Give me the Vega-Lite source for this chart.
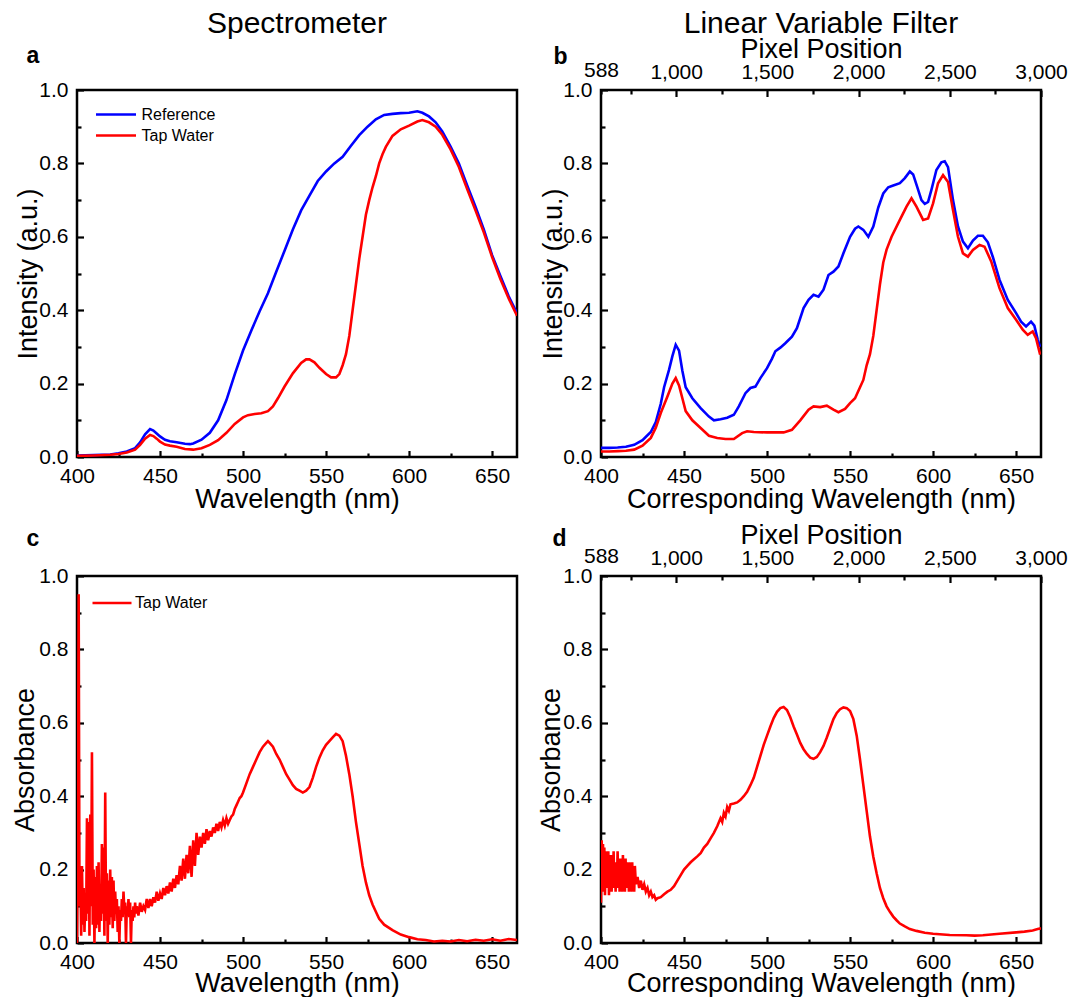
{
  "$schema": "https://vega.github.io/schema/vega-lite/v6.json",
  "autosize": {"type": "none"},
  "padding": {"left": 77, "top": 90, "right": 1006, "bottom": 907},
  "background": "white",
  "config": {
    "font": "Liberation Sans",
    "view": {"stroke": "black", "strokeWidth": 2.5},
    "axis": {"grid": false, "domain": false, "labelFont": "Liberation Sans", "titleFont": "Liberation Sans", "labelColor": "black", "titleColor": "black", "tickColor": "black", "tickWidth": 2.2, "labelFontSize": 21, "titleFontSize": 27, "titleFontWeight": "normal", "labelOverlap": false, "labelFlush": false},
    "title": {"font": "Liberation Sans", "fontSize": 30, "fontWeight": "normal", "color": "black", "anchor": "middle", "frame": "group"}
  },
  "resolve": {"scale": {"color": "independent"}, "legend": {"color": "independent"}},
  "datasets": {
    "pxAxis": [{"px": 588}, {"px": 3000}],
    "letterAxis": [{"v": 0}, {"v": 1}],
    "a": [
      {"nm":400,"v":0.004,"s":"Reference"},{"nm":410,"v":0.005,"s":"Reference"},{"nm":420,"v":0.007,"s":"Reference"},{"nm":425,"v":0.010,"s":"Reference"},{"nm":430,"v":0.015,"s":"Reference"},{"nm":435,"v":0.024,"s":"Reference"},{"nm":438,"v":0.040,"s":"Reference"},{"nm":441,"v":0.062,"s":"Reference"},{"nm":444,"v":0.076,"s":"Reference"},{"nm":446,"v":0.072,"s":"Reference"},{"nm":448,"v":0.064,"s":"Reference"},{"nm":450,"v":0.056,"s":"Reference"},{"nm":453,"v":0.047,"s":"Reference"},{"nm":456,"v":0.043,"s":"Reference"},{"nm":460,"v":0.040,"s":"Reference"},{"nm":465,"v":0.036,"s":"Reference"},{"nm":468,"v":0.035,"s":"Reference"},{"nm":470,"v":0.037,"s":"Reference"},{"nm":475,"v":0.047,"s":"Reference"},{"nm":480,"v":0.066,"s":"Reference"},{"nm":485,"v":0.100,"s":"Reference"},{"nm":490,"v":0.155,"s":"Reference"},{"nm":495,"v":0.225,"s":"Reference"},{"nm":500,"v":0.290,"s":"Reference"},{"nm":505,"v":0.345,"s":"Reference"},{"nm":510,"v":0.397,"s":"Reference"},{"nm":515,"v":0.446,"s":"Reference"},{"nm":520,"v":0.505,"s":"Reference"},{"nm":525,"v":0.562,"s":"Reference"},{"nm":530,"v":0.620,"s":"Reference"},{"nm":535,"v":0.672,"s":"Reference"},{"nm":540,"v":0.712,"s":"Reference"},{"nm":545,"v":0.752,"s":"Reference"},{"nm":550,"v":0.778,"s":"Reference"},{"nm":555,"v":0.800,"s":"Reference"},{"nm":560,"v":0.818,"s":"Reference"},{"nm":565,"v":0.848,"s":"Reference"},{"nm":570,"v":0.877,"s":"Reference"},{"nm":575,"v":0.900,"s":"Reference"},{"nm":580,"v":0.920,"s":"Reference"},{"nm":585,"v":0.932,"s":"Reference"},{"nm":590,"v":0.935,"s":"Reference"},{"nm":595,"v":0.937,"s":"Reference"},{"nm":600,"v":0.938,"s":"Reference"},{"nm":605,"v":0.942,"s":"Reference"},{"nm":608,"v":0.938,"s":"Reference"},{"nm":612,"v":0.928,"s":"Reference"},{"nm":616,"v":0.912,"s":"Reference"},{"nm":620,"v":0.887,"s":"Reference"},{"nm":625,"v":0.846,"s":"Reference"},{"nm":630,"v":0.800,"s":"Reference"},{"nm":635,"v":0.740,"s":"Reference"},{"nm":640,"v":0.682,"s":"Reference"},{"nm":645,"v":0.620,"s":"Reference"},{"nm":650,"v":0.550,"s":"Reference"},{"nm":655,"v":0.493,"s":"Reference"},{"nm":660,"v":0.438,"s":"Reference"},{"nm":665,"v":0.392,"s":"Reference"},
      {"nm":400,"v":0.003,"s":"Tap Water"},{"nm":410,"v":0.004,"s":"Tap Water"},{"nm":420,"v":0.006,"s":"Tap Water"},{"nm":425,"v":0.008,"s":"Tap Water"},{"nm":430,"v":0.012,"s":"Tap Water"},{"nm":435,"v":0.020,"s":"Tap Water"},{"nm":438,"v":0.033,"s":"Tap Water"},{"nm":441,"v":0.050,"s":"Tap Water"},{"nm":444,"v":0.060,"s":"Tap Water"},{"nm":446,"v":0.057,"s":"Tap Water"},{"nm":448,"v":0.050,"s":"Tap Water"},{"nm":450,"v":0.042,"s":"Tap Water"},{"nm":453,"v":0.034,"s":"Tap Water"},{"nm":456,"v":0.031,"s":"Tap Water"},{"nm":460,"v":0.028,"s":"Tap Water"},{"nm":465,"v":0.022,"s":"Tap Water"},{"nm":470,"v":0.020,"s":"Tap Water"},{"nm":475,"v":0.024,"s":"Tap Water"},{"nm":480,"v":0.033,"s":"Tap Water"},{"nm":485,"v":0.046,"s":"Tap Water"},{"nm":490,"v":0.066,"s":"Tap Water"},{"nm":495,"v":0.090,"s":"Tap Water"},{"nm":500,"v":0.108,"s":"Tap Water"},{"nm":503,"v":0.114,"s":"Tap Water"},{"nm":507,"v":0.117,"s":"Tap Water"},{"nm":511,"v":0.119,"s":"Tap Water"},{"nm":515,"v":0.125,"s":"Tap Water"},{"nm":518,"v":0.138,"s":"Tap Water"},{"nm":521,"v":0.160,"s":"Tap Water"},{"nm":525,"v":0.192,"s":"Tap Water"},{"nm":530,"v":0.228,"s":"Tap Water"},{"nm":535,"v":0.256,"s":"Tap Water"},{"nm":538,"v":0.266,"s":"Tap Water"},{"nm":540,"v":0.266,"s":"Tap Water"},{"nm":543,"v":0.258,"s":"Tap Water"},{"nm":546,"v":0.243,"s":"Tap Water"},{"nm":550,"v":0.226,"s":"Tap Water"},{"nm":553,"v":0.217,"s":"Tap Water"},{"nm":556,"v":0.217,"s":"Tap Water"},{"nm":558,"v":0.226,"s":"Tap Water"},{"nm":560,"v":0.250,"s":"Tap Water"},{"nm":562,"v":0.280,"s":"Tap Water"},{"nm":564,"v":0.330,"s":"Tap Water"},{"nm":566,"v":0.400,"s":"Tap Water"},{"nm":568,"v":0.470,"s":"Tap Water"},{"nm":570,"v":0.540,"s":"Tap Water"},{"nm":572,"v":0.600,"s":"Tap Water"},{"nm":574,"v":0.660,"s":"Tap Water"},{"nm":576,"v":0.700,"s":"Tap Water"},{"nm":578,"v":0.735,"s":"Tap Water"},{"nm":580,"v":0.765,"s":"Tap Water"},{"nm":582,"v":0.800,"s":"Tap Water"},{"nm":584,"v":0.825,"s":"Tap Water"},{"nm":586,"v":0.845,"s":"Tap Water"},{"nm":590,"v":0.875,"s":"Tap Water"},{"nm":595,"v":0.893,"s":"Tap Water"},{"nm":600,"v":0.903,"s":"Tap Water"},{"nm":605,"v":0.914,"s":"Tap Water"},{"nm":608,"v":0.918,"s":"Tap Water"},{"nm":612,"v":0.912,"s":"Tap Water"},{"nm":616,"v":0.900,"s":"Tap Water"},{"nm":620,"v":0.878,"s":"Tap Water"},{"nm":625,"v":0.838,"s":"Tap Water"},{"nm":630,"v":0.790,"s":"Tap Water"},{"nm":635,"v":0.730,"s":"Tap Water"},{"nm":640,"v":0.672,"s":"Tap Water"},{"nm":645,"v":0.612,"s":"Tap Water"},{"nm":650,"v":0.545,"s":"Tap Water"},{"nm":655,"v":0.485,"s":"Tap Water"},{"nm":660,"v":0.432,"s":"Tap Water"},{"nm":665,"v":0.385,"s":"Tap Water"}
    ],
    "b": [
      {"nm":400,"v":0.025,"s":"Reference"},{"nm":405,"v":0.025,"s":"Reference"},{"nm":410,"v":0.026,"s":"Reference"},{"nm":415,"v":0.028,"s":"Reference"},{"nm":420,"v":0.033,"s":"Reference"},{"nm":425,"v":0.046,"s":"Reference"},{"nm":430,"v":0.068,"s":"Reference"},{"nm":433,"v":0.095,"s":"Reference"},{"nm":436,"v":0.145,"s":"Reference"},{"nm":438,"v":0.190,"s":"Reference"},{"nm":441,"v":0.238,"s":"Reference"},{"nm":443,"v":0.275,"s":"Reference"},{"nm":445,"v":0.306,"s":"Reference"},{"nm":447,"v":0.290,"s":"Reference"},{"nm":449,"v":0.235,"s":"Reference"},{"nm":451,"v":0.190,"s":"Reference"},{"nm":455,"v":0.160,"s":"Reference"},{"nm":460,"v":0.133,"s":"Reference"},{"nm":465,"v":0.110,"s":"Reference"},{"nm":468,"v":0.100,"s":"Reference"},{"nm":472,"v":0.103,"s":"Reference"},{"nm":476,"v":0.107,"s":"Reference"},{"nm":480,"v":0.115,"s":"Reference"},{"nm":483,"v":0.138,"s":"Reference"},{"nm":487,"v":0.174,"s":"Reference"},{"nm":490,"v":0.188,"s":"Reference"},{"nm":493,"v":0.192,"s":"Reference"},{"nm":496,"v":0.215,"s":"Reference"},{"nm":500,"v":0.242,"s":"Reference"},{"nm":503,"v":0.268,"s":"Reference"},{"nm":505,"v":0.288,"s":"Reference"},{"nm":508,"v":0.298,"s":"Reference"},{"nm":511,"v":0.310,"s":"Reference"},{"nm":515,"v":0.328,"s":"Reference"},{"nm":518,"v":0.351,"s":"Reference"},{"nm":522,"v":0.406,"s":"Reference"},{"nm":525,"v":0.428,"s":"Reference"},{"nm":528,"v":0.442,"s":"Reference"},{"nm":531,"v":0.437,"s":"Reference"},{"nm":534,"v":0.456,"s":"Reference"},{"nm":537,"v":0.496,"s":"Reference"},{"nm":540,"v":0.505,"s":"Reference"},{"nm":543,"v":0.519,"s":"Reference"},{"nm":546,"v":0.555,"s":"Reference"},{"nm":550,"v":0.600,"s":"Reference"},{"nm":553,"v":0.622,"s":"Reference"},{"nm":555,"v":0.628,"s":"Reference"},{"nm":558,"v":0.619,"s":"Reference"},{"nm":561,"v":0.600,"s":"Reference"},{"nm":564,"v":0.628,"s":"Reference"},{"nm":567,"v":0.680,"s":"Reference"},{"nm":570,"v":0.718,"s":"Reference"},{"nm":573,"v":0.735,"s":"Reference"},{"nm":576,"v":0.740,"s":"Reference"},{"nm":580,"v":0.746,"s":"Reference"},{"nm":583,"v":0.760,"s":"Reference"},{"nm":586,"v":0.778,"s":"Reference"},{"nm":588,"v":0.770,"s":"Reference"},{"nm":590,"v":0.742,"s":"Reference"},{"nm":593,"v":0.700,"s":"Reference"},{"nm":595,"v":0.690,"s":"Reference"},{"nm":597,"v":0.695,"s":"Reference"},{"nm":599,"v":0.728,"s":"Reference"},{"nm":602,"v":0.782,"s":"Reference"},{"nm":605,"v":0.803,"s":"Reference"},{"nm":607,"v":0.806,"s":"Reference"},{"nm":609,"v":0.790,"s":"Reference"},{"nm":612,"v":0.700,"s":"Reference"},{"nm":615,"v":0.628,"s":"Reference"},{"nm":618,"v":0.587,"s":"Reference"},{"nm":621,"v":0.569,"s":"Reference"},{"nm":624,"v":0.590,"s":"Reference"},{"nm":627,"v":0.603,"s":"Reference"},{"nm":630,"v":0.603,"s":"Reference"},{"nm":633,"v":0.585,"s":"Reference"},{"nm":636,"v":0.545,"s":"Reference"},{"nm":640,"v":0.483,"s":"Reference"},{"nm":645,"v":0.428,"s":"Reference"},{"nm":650,"v":0.392,"s":"Reference"},{"nm":653,"v":0.369,"s":"Reference"},{"nm":656,"v":0.356,"s":"Reference"},{"nm":659,"v":0.369,"s":"Reference"},{"nm":661,"v":0.358,"s":"Reference"},{"nm":663,"v":0.320,"s":"Reference"},{"nm":664.5,"v":0.300,"s":"Reference"},
      {"nm":400,"v":0.015,"s":"Tap Water"},{"nm":405,"v":0.015,"s":"Tap Water"},{"nm":410,"v":0.016,"s":"Tap Water"},{"nm":415,"v":0.017,"s":"Tap Water"},{"nm":420,"v":0.020,"s":"Tap Water"},{"nm":425,"v":0.031,"s":"Tap Water"},{"nm":430,"v":0.052,"s":"Tap Water"},{"nm":433,"v":0.080,"s":"Tap Water"},{"nm":436,"v":0.120,"s":"Tap Water"},{"nm":440,"v":0.165,"s":"Tap Water"},{"nm":443,"v":0.200,"s":"Tap Water"},{"nm":445,"v":0.215,"s":"Tap Water"},{"nm":447,"v":0.195,"s":"Tap Water"},{"nm":449,"v":0.160,"s":"Tap Water"},{"nm":451,"v":0.125,"s":"Tap Water"},{"nm":455,"v":0.100,"s":"Tap Water"},{"nm":460,"v":0.079,"s":"Tap Water"},{"nm":465,"v":0.058,"s":"Tap Water"},{"nm":470,"v":0.052,"s":"Tap Water"},{"nm":475,"v":0.049,"s":"Tap Water"},{"nm":480,"v":0.049,"s":"Tap Water"},{"nm":485,"v":0.065,"s":"Tap Water"},{"nm":488,"v":0.070,"s":"Tap Water"},{"nm":492,"v":0.068,"s":"Tap Water"},{"nm":500,"v":0.067,"s":"Tap Water"},{"nm":510,"v":0.067,"s":"Tap Water"},{"nm":515,"v":0.074,"s":"Tap Water"},{"nm":520,"v":0.100,"s":"Tap Water"},{"nm":525,"v":0.129,"s":"Tap Water"},{"nm":528,"v":0.138,"s":"Tap Water"},{"nm":532,"v":0.136,"s":"Tap Water"},{"nm":536,"v":0.140,"s":"Tap Water"},{"nm":540,"v":0.129,"s":"Tap Water"},{"nm":543,"v":0.122,"s":"Tap Water"},{"nm":547,"v":0.131,"s":"Tap Water"},{"nm":550,"v":0.147,"s":"Tap Water"},{"nm":553,"v":0.160,"s":"Tap Water"},{"nm":556,"v":0.190,"s":"Tap Water"},{"nm":558,"v":0.210,"s":"Tap Water"},{"nm":560,"v":0.250,"s":"Tap Water"},{"nm":562,"v":0.280,"s":"Tap Water"},{"nm":564,"v":0.330,"s":"Tap Water"},{"nm":566,"v":0.400,"s":"Tap Water"},{"nm":568,"v":0.470,"s":"Tap Water"},{"nm":570,"v":0.530,"s":"Tap Water"},{"nm":572,"v":0.565,"s":"Tap Water"},{"nm":575,"v":0.600,"s":"Tap Water"},{"nm":580,"v":0.646,"s":"Tap Water"},{"nm":584,"v":0.682,"s":"Tap Water"},{"nm":587,"v":0.705,"s":"Tap Water"},{"nm":590,"v":0.682,"s":"Tap Water"},{"nm":594,"v":0.646,"s":"Tap Water"},{"nm":597,"v":0.650,"s":"Tap Water"},{"nm":600,"v":0.691,"s":"Tap Water"},{"nm":603,"v":0.746,"s":"Tap Water"},{"nm":606,"v":0.768,"s":"Tap Water"},{"nm":609,"v":0.749,"s":"Tap Water"},{"nm":612,"v":0.673,"s":"Tap Water"},{"nm":615,"v":0.600,"s":"Tap Water"},{"nm":618,"v":0.555,"s":"Tap Water"},{"nm":621,"v":0.546,"s":"Tap Water"},{"nm":624,"v":0.564,"s":"Tap Water"},{"nm":628,"v":0.578,"s":"Tap Water"},{"nm":631,"v":0.573,"s":"Tap Water"},{"nm":635,"v":0.533,"s":"Tap Water"},{"nm":640,"v":0.460,"s":"Tap Water"},{"nm":645,"v":0.406,"s":"Tap Water"},{"nm":650,"v":0.374,"s":"Tap Water"},{"nm":654,"v":0.347,"s":"Tap Water"},{"nm":657,"v":0.333,"s":"Tap Water"},{"nm":660,"v":0.342,"s":"Tap Water"},{"nm":662,"v":0.324,"s":"Tap Water"},{"nm":664.5,"v":0.279,"s":"Tap Water"}
    ],
    "c": [
      {"nm":400.0,"v":0.00,"s":"Tap Water"},{"nm":400.5,"v":0.30,"s":"Tap Water"},{"nm":401.0,"v":0.95,"s":"Tap Water"},{"nm":401.5,"v":0.10,"s":"Tap Water"},{"nm":402.0,"v":0.20,"s":"Tap Water"},{"nm":402.5,"v":0.02,"s":"Tap Water"},{"nm":403.0,"v":0.21,"s":"Tap Water"},{"nm":403.5,"v":0.05,"s":"Tap Water"},{"nm":404.0,"v":0.15,"s":"Tap Water"},{"nm":404.5,"v":0.03,"s":"Tap Water"},{"nm":405.0,"v":0.12,"s":"Tap Water"},{"nm":405.5,"v":0.06,"s":"Tap Water"},{"nm":406.0,"v":0.34,"s":"Tap Water"},{"nm":406.5,"v":0.08,"s":"Tap Water"},{"nm":407.0,"v":0.33,"s":"Tap Water"},{"nm":407.5,"v":0.02,"s":"Tap Water"},{"nm":408.0,"v":0.35,"s":"Tap Water"},{"nm":408.5,"v":0.10,"s":"Tap Water"},{"nm":409.0,"v":0.52,"s":"Tap Water"},{"nm":409.5,"v":0.05,"s":"Tap Water"},{"nm":410.0,"v":0.20,"s":"Tap Water"},{"nm":410.5,"v":0.00,"s":"Tap Water"},{"nm":411.0,"v":0.18,"s":"Tap Water"},{"nm":411.5,"v":0.04,"s":"Tap Water"},{"nm":412.0,"v":0.21,"s":"Tap Water"},{"nm":412.5,"v":0.05,"s":"Tap Water"},{"nm":413.0,"v":0.22,"s":"Tap Water"},{"nm":413.5,"v":0.03,"s":"Tap Water"},{"nm":414.0,"v":0.16,"s":"Tap Water"},{"nm":414.5,"v":0.06,"s":"Tap Water"},{"nm":415.0,"v":0.27,"s":"Tap Water"},{"nm":415.5,"v":0.08,"s":"Tap Water"},{"nm":416.0,"v":0.26,"s":"Tap Water"},{"nm":416.5,"v":0.02,"s":"Tap Water"},{"nm":417.0,"v":0.41,"s":"Tap Water"},{"nm":417.5,"v":0.06,"s":"Tap Water"},{"nm":418.0,"v":0.19,"s":"Tap Water"},{"nm":418.5,"v":0.00,"s":"Tap Water"},{"nm":419.0,"v":0.17,"s":"Tap Water"},{"nm":419.5,"v":0.05,"s":"Tap Water"},{"nm":420.0,"v":0.20,"s":"Tap Water"},{"nm":420.5,"v":0.07,"s":"Tap Water"},{"nm":421.0,"v":0.18,"s":"Tap Water"},{"nm":421.5,"v":0.04,"s":"Tap Water"},{"nm":422.0,"v":0.17,"s":"Tap Water"},{"nm":422.5,"v":0.06,"s":"Tap Water"},{"nm":423.0,"v":0.14,"s":"Tap Water"},{"nm":423.5,"v":0.08,"s":"Tap Water"},{"nm":424.0,"v":0.12,"s":"Tap Water"},{"nm":424.5,"v":0.03,"s":"Tap Water"},{"nm":425.0,"v":0.10,"s":"Tap Water"},{"nm":425.5,"v":0.00,"s":"Tap Water"},{"nm":426.0,"v":0.09,"s":"Tap Water"},{"nm":426.5,"v":0.06,"s":"Tap Water"},{"nm":427.0,"v":0.12,"s":"Tap Water"},{"nm":427.5,"v":0.07,"s":"Tap Water"},{"nm":428.0,"v":0.14,"s":"Tap Water"},{"nm":428.5,"v":0.09,"s":"Tap Water"},{"nm":429.0,"v":0.11,"s":"Tap Water"},{"nm":429.5,"v":0.00,"s":"Tap Water"},{"nm":430.0,"v":0.10,"s":"Tap Water"},{"nm":430.5,"v":0.08,"s":"Tap Water"},{"nm":431.0,"v":0.12,"s":"Tap Water"},{"nm":431.5,"v":0.07,"s":"Tap Water"},{"nm":432.0,"v":0.11,"s":"Tap Water"},{"nm":432.5,"v":0.00,"s":"Tap Water"},{"nm":433.0,"v":0.09,"s":"Tap Water"},{"nm":433.5,"v":0.06,"s":"Tap Water"},{"nm":434.0,"v":0.10,"s":"Tap Water"},{"nm":434.5,"v":0.07,"s":"Tap Water"},{"nm":435.0,"v":0.11,"s":"Tap Water"},{"nm":435.5,"v":0.08,"s":"Tap Water"},{"nm":436,"v":0.10,"s":"Tap Water"},{"nm":437,"v":0.075,"s":"Tap Water"},{"nm":438,"v":0.11,"s":"Tap Water"},{"nm":439,"v":0.085,"s":"Tap Water"},{"nm":440,"v":0.10,"s":"Tap Water"},{"nm":441,"v":0.09,"s":"Tap Water"},{"nm":442,"v":0.12,"s":"Tap Water"},{"nm":443,"v":0.095,"s":"Tap Water"},{"nm":444,"v":0.12,"s":"Tap Water"},{"nm":445,"v":0.10,"s":"Tap Water"},{"nm":446,"v":0.125,"s":"Tap Water"},{"nm":447,"v":0.11,"s":"Tap Water"},{"nm":448,"v":0.14,"s":"Tap Water"},{"nm":449,"v":0.115,"s":"Tap Water"},{"nm":450,"v":0.135,"s":"Tap Water"},{"nm":451,"v":0.12,"s":"Tap Water"},{"nm":452,"v":0.15,"s":"Tap Water"},{"nm":453,"v":0.13,"s":"Tap Water"},{"nm":454,"v":0.155,"s":"Tap Water"},{"nm":455,"v":0.135,"s":"Tap Water"},{"nm":456,"v":0.165,"s":"Tap Water"},{"nm":457,"v":0.14,"s":"Tap Water"},{"nm":458,"v":0.175,"s":"Tap Water"},{"nm":459,"v":0.15,"s":"Tap Water"},{"nm":460,"v":0.185,"s":"Tap Water"},{"nm":461,"v":0.16,"s":"Tap Water"},{"nm":462,"v":0.21,"s":"Tap Water"},{"nm":463,"v":0.17,"s":"Tap Water"},{"nm":464,"v":0.23,"s":"Tap Water"},{"nm":465,"v":0.175,"s":"Tap Water"},{"nm":466,"v":0.24,"s":"Tap Water"},{"nm":467,"v":0.19,"s":"Tap Water"},{"nm":468,"v":0.265,"s":"Tap Water"},{"nm":469,"v":0.18,"s":"Tap Water"},{"nm":470,"v":0.28,"s":"Tap Water"},{"nm":471,"v":0.21,"s":"Tap Water"},{"nm":472,"v":0.30,"s":"Tap Water"},{"nm":473,"v":0.24,"s":"Tap Water"},{"nm":474,"v":0.29,"s":"Tap Water"},{"nm":475,"v":0.26,"s":"Tap Water"},{"nm":476,"v":0.30,"s":"Tap Water"},{"nm":477,"v":0.27,"s":"Tap Water"},{"nm":478,"v":0.31,"s":"Tap Water"},{"nm":479,"v":0.28,"s":"Tap Water"},{"nm":480,"v":0.305,"s":"Tap Water"},{"nm":481,"v":0.29,"s":"Tap Water"},{"nm":482,"v":0.315,"s":"Tap Water"},{"nm":483,"v":0.30,"s":"Tap Water"},{"nm":484,"v":0.325,"s":"Tap Water"},{"nm":485,"v":0.305,"s":"Tap Water"},{"nm":486,"v":0.33,"s":"Tap Water"},{"nm":487,"v":0.315,"s":"Tap Water"},{"nm":488,"v":0.335,"s":"Tap Water"},{"nm":489,"v":0.32,"s":"Tap Water"},{"nm":490,"v":0.34,"s":"Tap Water"},{"nm":491,"v":0.325,"s":"Tap Water"},{"nm":492,"v":0.335,"s":"Tap Water"},{"nm":493,"v":0.345,"s":"Tap Water"},{"nm":494,"v":0.35,"s":"Tap Water"},{"nm":495,"v":0.365,"s":"Tap Water"},{"nm":496,"v":0.375,"s":"Tap Water"},{"nm":497,"v":0.385,"s":"Tap Water"},{"nm":498,"v":0.395,"s":"Tap Water"},{"nm":499,"v":0.40,"s":"Tap Water"},{"nm":500,"v":0.41,"s":"Tap Water"},{"nm":502,"v":0.435,"s":"Tap Water"},{"nm":504,"v":0.46,"s":"Tap Water"},{"nm":506,"v":0.48,"s":"Tap Water"},{"nm":508,"v":0.50,"s":"Tap Water"},{"nm":510,"v":0.52,"s":"Tap Water"},{"nm":512,"v":0.535,"s":"Tap Water"},{"nm":514,"v":0.545,"s":"Tap Water"},{"nm":515,"v":0.55,"s":"Tap Water"},{"nm":516,"v":0.545,"s":"Tap Water"},{"nm":518,"v":0.535,"s":"Tap Water"},{"nm":520,"v":0.515,"s":"Tap Water"},{"nm":522,"v":0.50,"s":"Tap Water"},{"nm":524,"v":0.48,"s":"Tap Water"},{"nm":526,"v":0.46,"s":"Tap Water"},{"nm":528,"v":0.445,"s":"Tap Water"},{"nm":530,"v":0.43,"s":"Tap Water"},{"nm":532,"v":0.42,"s":"Tap Water"},{"nm":534,"v":0.415,"s":"Tap Water"},{"nm":536,"v":0.41,"s":"Tap Water"},{"nm":538,"v":0.415,"s":"Tap Water"},{"nm":540,"v":0.425,"s":"Tap Water"},{"nm":542,"v":0.45,"s":"Tap Water"},{"nm":544,"v":0.48,"s":"Tap Water"},{"nm":546,"v":0.505,"s":"Tap Water"},{"nm":548,"v":0.525,"s":"Tap Water"},{"nm":550,"v":0.54,"s":"Tap Water"},{"nm":552,"v":0.55,"s":"Tap Water"},{"nm":554,"v":0.56,"s":"Tap Water"},{"nm":556,"v":0.57,"s":"Tap Water"},{"nm":558,"v":0.565,"s":"Tap Water"},{"nm":560,"v":0.55,"s":"Tap Water"},{"nm":562,"v":0.51,"s":"Tap Water"},{"nm":564,"v":0.46,"s":"Tap Water"},{"nm":566,"v":0.40,"s":"Tap Water"},{"nm":568,"v":0.33,"s":"Tap Water"},{"nm":570,"v":0.27,"s":"Tap Water"},{"nm":572,"v":0.21,"s":"Tap Water"},{"nm":574,"v":0.165,"s":"Tap Water"},{"nm":576,"v":0.13,"s":"Tap Water"},{"nm":578,"v":0.105,"s":"Tap Water"},{"nm":580,"v":0.085,"s":"Tap Water"},{"nm":582,"v":0.066,"s":"Tap Water"},{"nm":585,"v":0.05,"s":"Tap Water"},{"nm":590,"v":0.035,"s":"Tap Water"},{"nm":595,"v":0.023,"s":"Tap Water"},{"nm":600,"v":0.016,"s":"Tap Water"},{"nm":605,"v":0.010,"s":"Tap Water"},{"nm":610,"v":0.008,"s":"Tap Water"},{"nm":615,"v":0.004,"s":"Tap Water"},{"nm":620,"v":0.006,"s":"Tap Water"},{"nm":625,"v":0.004,"s":"Tap Water"},{"nm":630,"v":0.008,"s":"Tap Water"},{"nm":635,"v":0.005,"s":"Tap Water"},{"nm":640,"v":0.009,"s":"Tap Water"},{"nm":645,"v":0.006,"s":"Tap Water"},{"nm":650,"v":0.010,"s":"Tap Water"},{"nm":655,"v":0.006,"s":"Tap Water"},{"nm":660,"v":0.011,"s":"Tap Water"},{"nm":665,"v":0.008,"s":"Tap Water"}
    ],
    "d": [
      {"nm":400.0,"v":0.11},{"nm":400.4,"v":0.28},{"nm":400.8,"v":0.15},{"nm":401.2,"v":0.27},{"nm":401.6,"v":0.14},{"nm":402.0,"v":0.26},{"nm":402.4,"v":0.13},{"nm":402.8,"v":0.25},{"nm":403.2,"v":0.16},{"nm":403.6,"v":0.24},{"nm":404.0,"v":0.15},{"nm":404.4,"v":0.25},{"nm":404.8,"v":0.13},{"nm":405.2,"v":0.23},{"nm":405.6,"v":0.16},{"nm":406.0,"v":0.24},{"nm":406.4,"v":0.14},{"nm":406.8,"v":0.22},{"nm":407.2,"v":0.17},{"nm":407.6,"v":0.25},{"nm":408.0,"v":0.15},{"nm":408.4,"v":0.22},{"nm":408.8,"v":0.14},{"nm":409.2,"v":0.21},{"nm":409.6,"v":0.16},{"nm":410.0,"v":0.25},{"nm":410.4,"v":0.15},{"nm":410.8,"v":0.22},{"nm":411.2,"v":0.14},{"nm":411.6,"v":0.23},{"nm":412.0,"v":0.16},{"nm":412.4,"v":0.22},{"nm":412.8,"v":0.14},{"nm":413.2,"v":0.24},{"nm":413.6,"v":0.15},{"nm":414.0,"v":0.21},{"nm":414.4,"v":0.14},{"nm":414.8,"v":0.23},{"nm":415.2,"v":0.15},{"nm":415.6,"v":0.22},{"nm":416.0,"v":0.16},{"nm":416.4,"v":0.21},{"nm":416.8,"v":0.14},{"nm":417.2,"v":0.22},{"nm":417.6,"v":0.15},{"nm":418.0,"v":0.21},{"nm":418.4,"v":0.14},{"nm":418.8,"v":0.22},{"nm":419.2,"v":0.15},{"nm":419.6,"v":0.20},{"nm":420.0,"v":0.14},{"nm":420.4,"v":0.21},{"nm":421,"v":0.16},{"nm":422,"v":0.18},{"nm":423,"v":0.15},{"nm":424,"v":0.17},{"nm":425,"v":0.145},{"nm":426,"v":0.16},{"nm":427,"v":0.14},{"nm":428,"v":0.15},{"nm":429,"v":0.13},{"nm":430,"v":0.14},{"nm":431,"v":0.125},{"nm":432,"v":0.13},{"nm":433,"v":0.118},{"nm":434,"v":0.122},{"nm":436,"v":0.125},{"nm":438,"v":0.133},{"nm":440,"v":0.14},{"nm":442,"v":0.145},{"nm":444,"v":0.155},{"nm":446,"v":0.17},{"nm":448,"v":0.185},{"nm":450,"v":0.20},{"nm":452,"v":0.21},{"nm":454,"v":0.22},{"nm":456,"v":0.228},{"nm":458,"v":0.236},{"nm":460,"v":0.245},{"nm":462,"v":0.26},{"nm":464,"v":0.27},{"nm":466,"v":0.285},{"nm":468,"v":0.30},{"nm":470,"v":0.318},{"nm":472,"v":0.34},{"nm":473,"v":0.33},{"nm":474,"v":0.355},{"nm":475,"v":0.345},{"nm":476,"v":0.37},{"nm":477,"v":0.36},{"nm":478,"v":0.378},{"nm":480,"v":0.38},{"nm":482,"v":0.383},{"nm":484,"v":0.39},{"nm":486,"v":0.40},{"nm":488,"v":0.412},{"nm":490,"v":0.43},{"nm":492,"v":0.45},{"nm":494,"v":0.48},{"nm":496,"v":0.51},{"nm":498,"v":0.54},{"nm":500,"v":0.565},{"nm":502,"v":0.59},{"nm":504,"v":0.613},{"nm":506,"v":0.63},{"nm":508,"v":0.64},{"nm":510,"v":0.643},{"nm":512,"v":0.635},{"nm":514,"v":0.615},{"nm":516,"v":0.59},{"nm":518,"v":0.568},{"nm":520,"v":0.545},{"nm":522,"v":0.528},{"nm":524,"v":0.515},{"nm":526,"v":0.505},{"nm":528,"v":0.502},{"nm":530,"v":0.507},{"nm":532,"v":0.52},{"nm":534,"v":0.537},{"nm":536,"v":0.56},{"nm":538,"v":0.585},{"nm":540,"v":0.61},{"nm":542,"v":0.627},{"nm":544,"v":0.637},{"nm":546,"v":0.642},{"nm":548,"v":0.64},{"nm":550,"v":0.632},{"nm":552,"v":0.61},{"nm":554,"v":0.565},{"nm":556,"v":0.50},{"nm":558,"v":0.43},{"nm":560,"v":0.36},{"nm":562,"v":0.29},{"nm":564,"v":0.235},{"nm":566,"v":0.19},{"nm":568,"v":0.15},{"nm":570,"v":0.122},{"nm":572,"v":0.10},{"nm":574,"v":0.085},{"nm":576,"v":0.072},{"nm":578,"v":0.062},{"nm":580,"v":0.053},{"nm":583,"v":0.045},{"nm":586,"v":0.038},{"nm":590,"v":0.033},{"nm":595,"v":0.028},{"nm":600,"v":0.025},{"nm":610,"v":0.022},{"nm":620,"v":0.021},{"nm":625,"v":0.020},{"nm":630,"v":0.021},{"nm":640,"v":0.025},{"nm":650,"v":0.029},{"nm":655,"v":0.031},{"nm":660,"v":0.034},{"nm":663,"v":0.038},{"nm":665,"v":0.040}
    ]
  },
  "concat": [
    {
      "title": {"text": "Spectrometer", "offset": 6},
      "width": 440, "height": 367,
      "layer": [
        {
          "data": {"name": "a"},
          "mark": {"type": "line", "strokeWidth": 2.6, "clip": true},
          "encoding": {
            "x": {"field": "nm", "type": "quantitative", "scale": {"domain": [400, 665], "nice": false, "zero": false},
              "axis": {"title": "Wavelength (nm)", "values": [400,425,450,475,500,525,550,575,600,625,650], "format": "d", "labelExpr": "datum.value % 50 === 0 ? datum.label : ''", "tickSize": {"condition": {"test": "datum.value % 50 !== 0", "value": -4}, "value": -6.5}, "labelPadding": 14.5, "titleY": 50, "titleBaseline": "alphabetic"}},
            "y": {"field": "v", "type": "quantitative", "scale": {"domain": [0, 1], "nice": false, "zero": false},
              "axis": {"title": "Intensity (a.u.)", "values": [0,0.1,0.2,0.3,0.4,0.5,0.6,0.7,0.8,0.9,1.0], "format": ".1f", "labelExpr": "round(datum.value*10) % 2 === 0 ? datum.label : ''", "tickSize": {"condition": {"test": "round(datum.value*10) % 2 !== 0", "value": -4}, "value": -6.5}, "labelPadding": 15.5, "titleX": -41, "titleBaseline": "alphabetic"}},
            "color": {"field": "s", "type": "nominal", "scale": {"domain": ["Reference", "Tap Water"], "range": ["#0000ff", "#ff0000"]},
              "legend": {"orient": "none", "legendX": 27.5, "legendY": 13, "title": null, "labelFontSize": 16, "labelFont": "Liberation Sans", "labelColor": "black", "symbolType": "M-2,0H2", "symbolSize": 400, "symbolStrokeWidth": 2.5, "symbolFillColor": "transparent", "labelOffset": 14, "rowPadding": 1, "padding": 0}}
          }
        },
        {
          "data": {"name": "letterAxis"},
          "mark": {"type": "point", "opacity": 0},
          "encoding": {
            "y": {"field": "v", "type": "quantitative", "scale": {"domain": [0, 1]},
              "axis": {"orient": "right", "title": "a", "ticks": false, "labels": false, "domain": false, "titleAngle": 0, "titleX": -491, "titleY": -27.5, "titleAlign": "left", "titleBaseline": "alphabetic", "titleFontWeight": "bold", "titleFontSize": 23}}
          }
        }
      ],
      "resolve": {"scale": {"y": "independent"}}
    },
    {
      "title": {"text": "Linear Variable Filter", "offset": -4},
      "width": 440, "height": 367,
      "layer": [
        {
          "data": {"name": "b"},
          "mark": {"type": "line", "strokeWidth": 2.6, "clip": true},
          "encoding": {
            "x": {"field": "nm", "type": "quantitative", "scale": {"domain": [400, 665], "nice": false, "zero": false},
              "axis": {"title": "Corresponding Wavelength (nm)", "values": [400,425,450,475,500,525,550,575,600,625,650], "format": "d", "labelExpr": "datum.value % 50 === 0 ? datum.label : ''", "tickSize": {"condition": {"test": "datum.value % 50 !== 0", "value": -4}, "value": -6.5}, "labelPadding": 14.5, "titleY": 50, "titleBaseline": "alphabetic"}},
            "y": {"field": "v", "type": "quantitative", "scale": {"domain": [0, 1], "nice": false, "zero": false},
              "axis": {"title": "Intensity (a.u.)", "values": [0,0.1,0.2,0.3,0.4,0.5,0.6,0.7,0.8,0.9,1.0], "format": ".1f", "labelExpr": "round(datum.value*10) % 2 === 0 ? datum.label : ''", "tickSize": {"condition": {"test": "round(datum.value*10) % 2 !== 0", "value": -4}, "value": -6.5}, "labelPadding": 15.5, "titleX": -40, "titleBaseline": "alphabetic"}},
            "color": {"field": "s", "type": "nominal", "scale": {"domain": ["Reference", "Tap Water"], "range": ["#0000ff", "#ff0000"]}, "legend": null}
          }
        },
        {
          "data": {"name": "pxAxis"},
          "mark": {"type": "point", "opacity": 0},
          "encoding": {
            "x": {"field": "px", "type": "quantitative", "scale": {"domain": [588, 3000], "nice": false, "zero": false},
              "axis": {"orient": "top", "title": "Pixel Position", "values": [588,750,1000,1250,1500,1750,2000,2250,2500,2750,3000], "format": ",.0f", "labelExpr": "(datum.value % 500 === 0 || datum.value === 588) ? datum.label : ''", "tickSize": {"condition": {"test": "datum.value % 500 !== 0", "value": -4}, "value": -6.5}, "labelPadding": 14, "titleY": -33, "titleBaseline": "alphabetic"}}
          }
        },
        {
          "data": {"name": "letterAxis"},
          "mark": {"type": "point", "opacity": 0},
          "encoding": {
            "y": {"field": "v", "type": "quantitative", "scale": {"domain": [0, 1]},
              "axis": {"orient": "right", "title": "b", "ticks": false, "labels": false, "domain": false, "titleAngle": 0, "titleX": -488, "titleY": -27, "titleAlign": "left", "titleBaseline": "alphabetic", "titleFontWeight": "bold", "titleFontSize": 23}}
          }
        }
      ],
      "resolve": {"scale": {"x": "independent", "y": "independent"}}
    },
    {
      "width": 440, "height": 367,
      "layer": [
        {
          "data": {"name": "c"},
          "mark": {"type": "line", "strokeWidth": 2.6, "clip": true},
          "encoding": {
            "x": {"field": "nm", "type": "quantitative", "scale": {"domain": [400, 665], "nice": false, "zero": false},
              "axis": {"title": "Wavelength (nm)", "values": [400,425,450,475,500,525,550,575,600,625,650], "format": "d", "labelExpr": "datum.value % 50 === 0 ? datum.label : ''", "tickSize": {"condition": {"test": "datum.value % 50 !== 0", "value": -4}, "value": -6.5}, "labelPadding": 14.5, "titleY": 48, "titleBaseline": "alphabetic"}},
            "y": {"field": "v", "type": "quantitative", "scale": {"domain": [0, 1], "nice": false, "zero": false},
              "axis": {"title": "Absorbance", "values": [0,0.1,0.2,0.3,0.4,0.5,0.6,0.7,0.8,0.9,1.0], "format": ".1f", "labelExpr": "round(datum.value*10) % 2 === 0 ? datum.label : ''", "tickSize": {"condition": {"test": "round(datum.value*10) % 2 !== 0", "value": -4}, "value": -6.5}, "labelPadding": 15.5, "titleX": -43.5, "titleBaseline": "alphabetic"}},
            "color": {"field": "s", "type": "nominal", "scale": {"domain": ["Tap Water"], "range": ["#ff0000"]},
              "legend": {"orient": "none", "legendX": 24, "legendY": 16, "title": null, "labelFontSize": 16, "labelFont": "Liberation Sans", "labelColor": "black", "symbolType": "M-2,0H2", "symbolSize": 380, "symbolStrokeWidth": 2.5, "symbolFillColor": "transparent", "labelOffset": 12, "rowPadding": 1, "padding": 0}}
          }
        },
        {
          "data": {"name": "letterAxis"},
          "mark": {"type": "point", "opacity": 0},
          "encoding": {
            "y": {"field": "v", "type": "quantitative", "scale": {"domain": [0, 1]},
              "axis": {"orient": "right", "title": "c", "ticks": false, "labels": false, "domain": false, "titleAngle": 0, "titleX": -491, "titleY": -31, "titleAlign": "left", "titleBaseline": "alphabetic", "titleFontWeight": "bold", "titleFontSize": 23}}
          }
        }
      ],
      "resolve": {"scale": {"y": "independent"}}
    },
    {
      "width": 440, "height": 367,
      "layer": [
        {
          "data": {"name": "d"},
          "mark": {"type": "line", "strokeWidth": 2.6, "clip": true, "color": "#ff0000"},
          "encoding": {
            "x": {"field": "nm", "type": "quantitative", "scale": {"domain": [400, 665], "nice": false, "zero": false},
              "axis": {"title": "Corresponding Wavelength (nm)", "values": [400,425,450,475,500,525,550,575,600,625,650], "format": "d", "labelExpr": "datum.value % 50 === 0 ? datum.label : ''", "tickSize": {"condition": {"test": "datum.value % 50 !== 0", "value": -4}, "value": -6.5}, "labelPadding": 14.5, "titleY": 48, "titleBaseline": "alphabetic"}},
            "y": {"field": "v", "type": "quantitative", "scale": {"domain": [0, 1], "nice": false, "zero": false},
              "axis": {"title": "Absorbance", "values": [0,0.1,0.2,0.3,0.4,0.5,0.6,0.7,0.8,0.9,1.0], "format": ".1f", "labelExpr": "round(datum.value*10) % 2 === 0 ? datum.label : ''", "tickSize": {"condition": {"test": "round(datum.value*10) % 2 !== 0", "value": -4}, "value": -6.5}, "labelPadding": 15.5, "titleX": -41.5, "titleBaseline": "alphabetic"}}
          }
        },
        {
          "data": {"name": "pxAxis"},
          "mark": {"type": "point", "opacity": 0},
          "encoding": {
            "x": {"field": "px", "type": "quantitative", "scale": {"domain": [588, 3000], "nice": false, "zero": false},
              "axis": {"orient": "top", "title": "Pixel Position", "values": [588,750,1000,1250,1500,1750,2000,2250,2500,2750,3000], "format": ",.0f", "labelExpr": "(datum.value % 500 === 0 || datum.value === 588) ? datum.label : ''", "tickSize": {"condition": {"test": "datum.value % 500 !== 0", "value": -4}, "value": -6.5}, "labelPadding": 14, "titleY": -33, "titleBaseline": "alphabetic"}}
          }
        },
        {
          "data": {"name": "letterAxis"},
          "mark": {"type": "point", "opacity": 0},
          "encoding": {
            "y": {"field": "v", "type": "quantitative", "scale": {"domain": [0, 1]},
              "axis": {"orient": "right", "title": "d", "ticks": false, "labels": false, "domain": false, "titleAngle": 0, "titleX": -489, "titleY": -31, "titleAlign": "left", "titleBaseline": "alphabetic", "titleFontWeight": "bold", "titleFontSize": 23}}
          }
        }
      ],
      "resolve": {"scale": {"x": "independent", "y": "independent"}}
    }
  ],
  "columns": 2,
  "spacing": {"row": 119, "column": 84},
  "bounds": "flush"
}
